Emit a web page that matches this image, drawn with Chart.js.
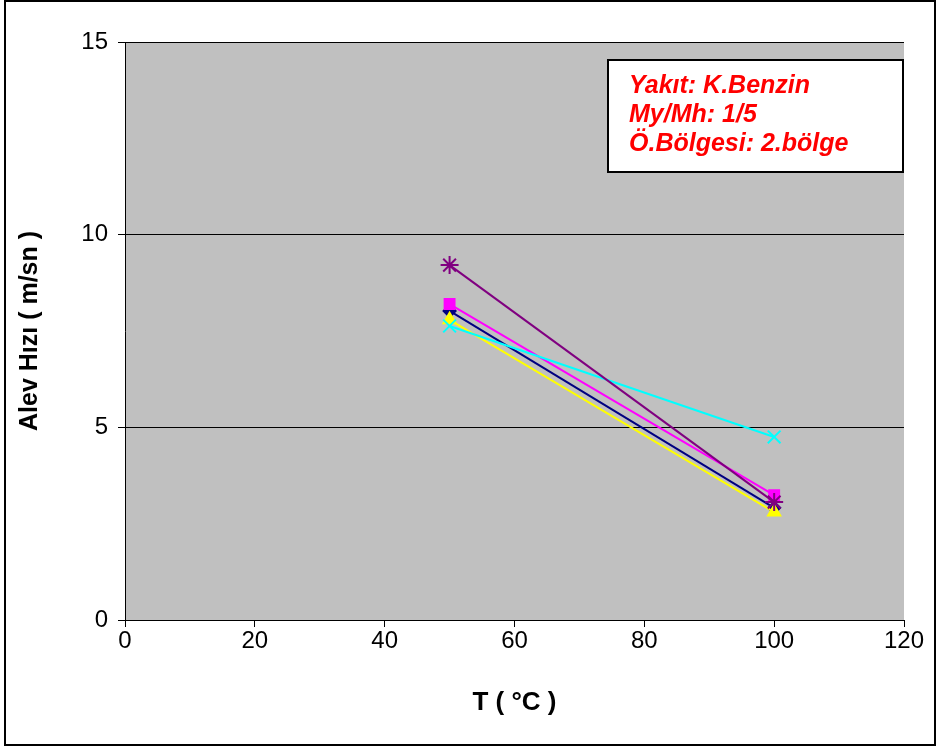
<!DOCTYPE html>
<html>
<head>
<meta charset="utf-8">
<script src="https://cdn.jsdelivr.net/npm/chart.js@4"></script>
<style>
  html, body { margin: 0; padding: 0; background: #fff; }
  #wrap { width: 938px; height: 747px; }
</style>
</head>
<body>
<div id="wrap"><canvas id="c" width="938" height="747"></canvas></div>
<script>
const temps = [50, 100]
const navySeries = [8.02, 2.91]
const magentaSeries = [8.20, 3.24]
const yellowSeries = [7.79, 2.80]
const cyanSeries = [7.63, 4.75]
const purpleSeries = [9.21, 3.06]
const xTicks = [0, 20, 40, 60, 80, 100, 120]
const yTicks = [0, 5, 10, 15]
const noteLines = ['Yakıt: K.Benzin', 'My/Mh: 1/5', 'Ö.Bölgesi: 2.bölge']

const FONT = "'Liberation Sans', Arial, sans-serif"

const toPoints = (vals) => temps.map((t, i) => ({ x: t, y: vals[i] }))

// order: later series (lower order) are painted on top, like excel
const makeSet = (label, vals, color, style, size, order) => ({
  label,
  data: toPoints(vals),
  order,
  showLine: true,
  borderColor: color,
  backgroundColor: color,
  borderWidth: 2,
  pointStyle: style,
  pointRadius: size,
  pointBorderColor: color,
  pointBackgroundColor: color,
  pointBorderWidth: 2
})

const chartFrame = {
  id: 'chartFrame',
  beforeDraw(chart) {
    const { ctx, chartArea: a } = chart
    ctx.save()
    ctx.fillStyle = '#c0c0c0'
    ctx.fillRect(a.left, a.top, a.right - a.left, a.bottom - a.top)
    ctx.restore()
  },
  afterDraw(chart) {
    const { ctx } = chart
    ctx.save()
    // note box
    ctx.fillStyle = '#fff'
    ctx.fillRect(608, 60, 295, 112)
    ctx.strokeStyle = '#000'
    ctx.lineWidth = 2
    ctx.strokeRect(608, 60, 295, 112)
    ctx.fillStyle = '#ff0000'
    ctx.font = "italic bold 25px " + FONT
    ctx.textBaseline = 'alphabetic'
    noteLines.forEach((t, i) => ctx.fillText(t, 629, 93 + i * 29))
    // outer border
    ctx.lineWidth = 2
    ctx.strokeRect(5, 1, 930, 744)
    ctx.restore()
  }
}

new Chart(document.getElementById('c').getContext('2d'), {
  type: 'scatter',
  data: {
    datasets: [
      makeSet('Seri1', navySeries, '#000080', 'rectRot', 6, 5),
      makeSet('Seri2', magentaSeries, '#ff00ff', 'rect', 7, 4),
      makeSet('Seri3', yellowSeries, '#ffff00', 'triangle', 7, 3),
      makeSet('Seri4', cyanSeries, '#00ffff', 'crossRot', 9, 2),
      makeSet('Seri5', purpleSeries, '#800080', 'star', 9, 1)
    ]
  },
  options: {
    responsive: false,
    animation: false,
    layout: { padding: { top: 42, right: 34, left: 0, bottom: 0 } },
    plugins: {
      legend: { display: false },
      tooltip: { enabled: false }
    },
    scales: {
      x: {
        type: 'linear',
        min: 0,
        max: 120,
        afterBuildTicks: (s) => { s.ticks = xTicks.map(v => ({ value: v })) },
        afterFit: (s) => { s.height = 127 },
        grid: { drawOnChartArea: false, color: '#000', tickLength: 7 },
        border: { color: '#000', width: 1 },
        ticks: { color: '#000', font: { family: FONT, size: 24 }, padding: 0 },
        title: {
          display: true,
          text: 'T ( °C )',
          color: '#000',
          font: { family: FONT, size: 26, weight: 'bold' },
          padding: { top: 0, bottom: 29 }
        }
      },
      y: {
        min: 0,
        max: 15,
        afterBuildTicks: (s) => { s.ticks = yTicks.map(v => ({ value: v })) },
        afterFit: (s) => { s.width = 125 },
        grid: { color: '#000', tickLength: 7 },
        border: { color: '#000', width: 1 },
        ticks: { color: '#000', font: { family: FONT, size: 24 }, padding: 10 },
        title: {
          display: true,
          text: 'Alev Hızı ( m/sn )',
          color: '#000',
          font: { family: FONT, size: 25, weight: 'bold' },
          padding: { top: 15, bottom: 0 }
        }
      }
    }
  },
  plugins: [chartFrame]
})
</script>
</body>
</html>
